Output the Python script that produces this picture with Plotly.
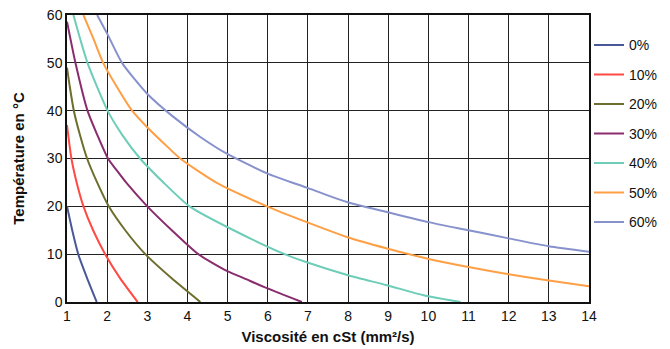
import plotly.graph_objects as go

names = ["0%", "10%", "20%", "30%", "40%", "50%", "60%"]
colors = ["#4a5899", "#ff4a44", "#6e6e2e", "#8a2d6e", "#6dcdb8", "#ff9f45", "#8792cc"]

visc_0 = [1.0, 1.13, 1.28, 1.5, 1.74]
temp_0 = [20, 15, 10, 5, 0]

visc_10 = [1.0, 1.11, 1.24, 1.41, 1.65, 1.95, 2.32, 2.76]
temp_10 = [37, 30, 25, 20, 15, 10, 5, 0]

visc_20 = [1.0, 1.07, 1.17, 1.32, 1.50, 1.75, 2.04, 2.45, 2.95, 3.6, 4.32]
temp_20 = [49, 45, 40, 35, 30, 25, 20, 15, 10, 5, 0]

visc_30 = [1.0, 1.21, 1.51, 1.75, 2.02, 2.24, 2.47, 3.0, 3.61, 4.27, 4.98, 5.40, 5.98, 6.85]
temp_30 = [58.6, 50, 40, 35, 30, 27.5, 25, 20, 15, 10, 6.5, 5, 2.9, 0]

visc_40 = [1.16, 1.51, 2.01, 2.37, 2.82, 3.40, 4.05, 5.15, 6.42, 6.97, 8.0, 8.97, 9.88, 10.8]
temp_40 = [60, 50, 40, 35, 30, 25, 20, 15, 10, 8.3, 5.6, 3.5, 1.4, 0]

visc_50 = [1.41, 1.66, 1.9, 2.24, 2.62, 2.99, 3.42, 3.82, 4.71, 5.98, 6.97, 7.97, 8.97, 9.96, 11.0, 12.0, 13.0, 14.0]
temp_50 = [60, 55, 50, 45, 40, 36.6, 33.1, 30, 25, 20, 16.7, 13.6, 11.2, 9.1, 7.3, 5.8, 4.5, 3.3]

visc_60 = [1.75, 2.0, 2.37, 2.99, 3.65, 4.32, 4.98, 5.98, 6.97, 7.97, 8.97, 10.0, 11.0, 12.0, 13.0, 14.0]
temp_60 = [60, 56.1, 50, 43.6, 38.7, 34.5, 31.0, 26.9, 23.9, 20.9, 18.8, 16.7, 15.0, 13.3, 11.65, 10.5]

series = [
    (visc_0, temp_0), (visc_10, temp_10), (visc_20, temp_20), (visc_30, temp_30),
    (visc_40, temp_40), (visc_50, temp_50), (visc_60, temp_60),
]

x_ticks = list(range(1, 15))
y_ticks = list(range(0, 61, 10))

fig = go.Figure()
for name, color, (vx, ty) in zip(names, colors, series):
    fig.add_trace(go.Scatter(
        x=vx, y=ty, mode="lines", name=name, legendgroup=name,
        line=dict(color=color, width=2, shape="spline", smoothing=0.6),
    ))

font_family = "Liberation Sans, Arial, sans-serif"
fig.update_layout(
    width=670, height=349,
    margin=dict(l=67, r=81, t=15, b=47, autoexpand=False),
    paper_bgcolor="white", plot_bgcolor="white",
    font=dict(family=font_family, size=14, color="#111"),
    legend=dict(x=1.0, xanchor="left", y=0.95, yanchor="top",
                font=dict(size=14), tracegroupgap=8.3, itemwidth=30,
                bgcolor="rgba(0,0,0,0)"),
    xaxis=dict(
        range=[1, 14], tickvals=x_ticks, showgrid=True, gridcolor="#222", gridwidth=1,
        showline=True, linecolor="#111", linewidth=1.5, mirror=True, zeroline=False,
        ticks="", tickfont=dict(size=14), automargin=False,
        title=dict(text="<b>Viscosité en cSt (mm²/s)</b>", font=dict(size=15), standoff=9),
    ),
    yaxis=dict(
        range=[0, 60], tickvals=y_ticks, showgrid=True, gridcolor="#222", gridwidth=1,
        showline=True, linecolor="#111", linewidth=1.5, mirror=True, zeroline=False,
        ticks="", tickfont=dict(size=14), automargin=False,
        title=dict(text="<b>Température en °C</b>", font=dict(size=15), standoff=19),
    ),
)

fig.write_html("out.html", config={"displayModeBar": False},
               post_script="document.body.style.margin='0';")
